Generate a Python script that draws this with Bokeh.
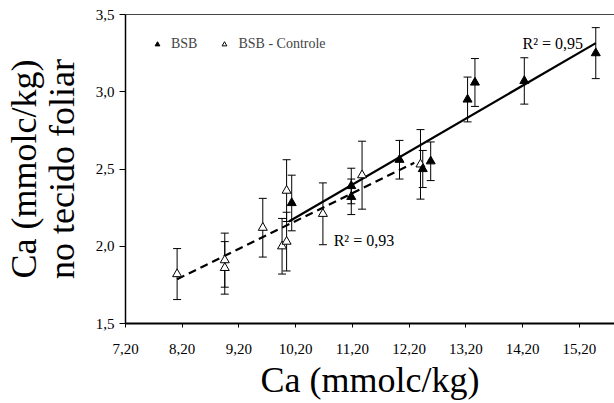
import numpy as np
from bokeh.plotting import figure
from bokeh.models import (ColumnDataSource, Whisker, TeeHead, FixedTicker, LinearAxis,
                          Legend, LegendItem, Range1d)
from bokeh.core.properties import value
from bokeh.embed import file_html
from bokeh.resources import INLINE

# ---- data ----
bsb_x = [10.13, 11.18, 11.18, 12.03, 12.44, 12.58, 13.23, 13.36, 14.23, 15.49]
bsb_y = [2.28, 2.39, 2.32, 2.56, 2.50, 2.55, 2.95, 3.06, 3.07, 3.25]
bsb_err = [0.18, 0.115, 0.115, 0.125, 0.12, 0.125, 0.145, 0.155, 0.15, 0.165]

ctrl_x = [8.11, 8.95, 8.95, 9.62, 9.96, 10.04, 10.04, 10.68, 11.37, 12.40]
ctrl_y = [1.82, 1.91, 1.86, 2.12, 2.00, 2.03, 2.36, 2.21, 2.46, 2.53]
ctrl_err = [0.165, 0.175, 0.17, 0.19, 0.18, 0.19, 0.20, 0.20, 0.22, 0.225]

bsb_fit_x = [10.08, 15.49]
bsb_fit_y = [2.16, 3.315]
ctrl_fit_x = [8.11, 12.29]
ctrl_fit_y = [1.787, 2.54]

x_ticks = [7.2, 8.2, 9.2, 10.2, 11.2, 12.2, 13.2, 14.2, 15.2]
x_tick_labels = ["7,20", "8,20", "9,20", "10,20", "11,20", "12,20", "13,20", "14,20", "15,20"]
y_ticks = [1.5, 2.0, 2.5, 3.0, 3.5]
y_tick_labels = ["1,5", "2,0", "2,5", "3,0", "3,5"]

r2_bsb = "R² = 0,95"
r2_ctrl = "R² = 0,93"
x_title = "Ca (mmolc/kg)"
y_title = "Ca (mmolc/kg)\nno tecido foliar"

FONT = "Liberation Serif"

p = figure(width=614, height=403, output_backend="svg", toolbar_location=None,
           x_range=Range1d(7.2, 15.82), y_range=Range1d(1.5, 3.5),
           min_border_left=125, min_border_right=0, min_border_top=14, min_border_bottom=80)
p.grid.visible = False
p.outline_line_color = None
p.background_fill_color = "white"
p.border_fill_color = "white"

# axes
p.xaxis.ticker = FixedTicker(ticks=x_ticks)
p.xaxis.major_label_overrides = {t: l for t, l in zip(x_ticks, x_tick_labels)}
p.yaxis.ticker = FixedTicker(ticks=y_ticks)
p.yaxis.major_label_overrides = {t: l for t, l in zip(y_ticks, y_tick_labels)}
for ax in (p.xaxis[0], p.yaxis[0]):
    ax.minor_tick_line_color = None
    ax.major_tick_in = 0
    ax.major_label_text_font = FONT
    ax.major_label_text_font_size = "15px"
    ax.major_label_text_color = "black"
    ax.axis_line_color = "black"
    ax.major_tick_line_color = "black"
    ax.axis_label_text_font = FONT
    ax.axis_label_text_font_size = "36px"
    ax.axis_label_text_font_style = "normal"
    ax.axis_label_text_color = "black"
p.xaxis.major_tick_out = 4
p.xaxis.axis_line_width = 2
p.xaxis.major_label_standoff = 16
p.xaxis.axis_label = x_title
p.xaxis.axis_label_standoff = 3
p.yaxis.major_tick_out = 6
p.yaxis.axis_line_width = 1.5
p.yaxis.major_label_standoff = 5
p.yaxis.axis_label = y_title
p.yaxis.axis_label_standoff = 11
p.yaxis.axis_label_text_line_height = 0.95

top = LinearAxis(ticker=FixedTicker(ticks=[]), major_label_text_font_size="0px",
                 major_tick_out=0, major_tick_in=0, minor_tick_out=0, minor_tick_in=0,
                 major_label_standoff=0, axis_line_color="#444444", axis_line_width=1)
p.add_layout(top, "above")

# trend lines
p.line(bsb_fit_x, bsb_fit_y, line_color="black", line_width=2.2)
p.line(ctrl_fit_x, ctrl_fit_y, line_color="black", line_width=2.2, line_dash="8 5")

# error bars
src_b = ColumnDataSource(dict(x=bsb_x, y=bsb_y,
                              lo=[y - e for y, e in zip(bsb_y, bsb_err)],
                              hi=[y + e for y, e in zip(bsb_y, bsb_err)]))
src_c = ColumnDataSource(dict(x=ctrl_x, y=ctrl_y,
                              lo=[y - e for y, e in zip(ctrl_y, ctrl_err)],
                              hi=[y + e for y, e in zip(ctrl_y, ctrl_err)]))
for src in (src_c, src_b):
    w = Whisker(base="x", lower="lo", upper="hi", source=src, dimension="height",
                line_color="black", line_width=1,
                upper_head=TeeHead(size=8, line_color="black", line_width=1),
                lower_head=TeeHead(size=8, line_color="black", line_width=1))
    p.add_layout(w)

r_c = p.scatter("x", "y", source=src_c, marker="triangle", size=9,
                fill_color="white", line_color="black", line_width=1)
r_b = p.scatter("x", "y", source=src_b, marker="triangle", size=9,
                fill_color="black", line_color="black", line_width=1)

# R² labels
p.text(x=[14.20], y=[3.315], text=[r2_bsb], text_font=value(FONT), text_font_size="16px",
       text_color="black", text_baseline="alphabetic", text_align="left")
p.text(x=[10.87], y=[2.035], text=[r2_ctrl], text_font=value(FONT), text_font_size="16px",
       text_color="black", text_baseline="alphabetic", text_align="left")

legend = Legend(items=[LegendItem(label="BSB", renderers=[r_b]),
                       LegendItem(label="BSB - Controle", renderers=[r_c])],
                orientation="horizontal", location=(26, 269),
                border_line_color=None, background_fill_alpha=0,
                label_text_font=FONT, label_text_font_size="14px",
                glyph_width=12, glyph_height=12, label_standoff=8,
                padding=5, spacing=21, margin=0, label_height=20)
p.add_layout(legend)

open("out.html", "w").write(file_html(p, INLINE))
